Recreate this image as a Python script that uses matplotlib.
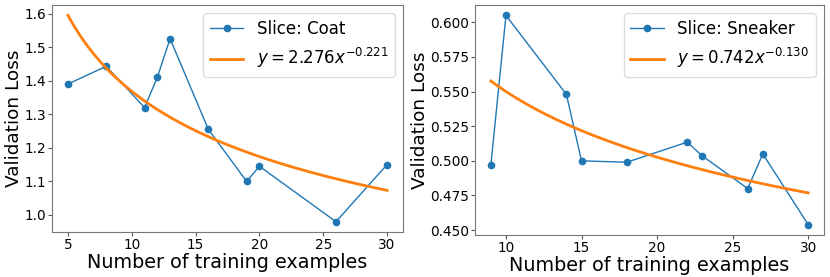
import numpy as np
import matplotlib
matplotlib.use("Agg")
import matplotlib.pyplot as plt

coat_x = [5, 8, 11, 12, 13, 16, 19, 20, 26, 30]
coat_y = [1.39, 1.443, 1.32, 1.41, 1.525, 1.255, 1.10, 1.145, 0.98, 1.15]
coat_a, coat_b = 2.276, -0.221

sneaker_x = [9, 10, 14, 15, 18, 22, 23, 26, 27, 30]
sneaker_y = [0.497, 0.605, 0.548, 0.500, 0.499, 0.5135, 0.5035, 0.480, 0.505, 0.454]
sneaker_a, sneaker_b = 0.742, -0.130

coat_yticks = [1.0, 1.1, 1.2, 1.3, 1.4, 1.5, 1.6]
sneaker_yticks = [0.450, 0.475, 0.500, 0.525, 0.550, 0.575, 0.600]

fig = plt.figure(figsize=(8.3, 2.77), dpi=100)
ax1 = fig.add_axes([52/830, 1-232/277, (403-52)/830, (232-5)/277])
ax2 = fig.add_axes([475/830, 1-235/277, (824-475)/830, (235-5)/277])

def draw(ax, x, y, a, b, name, yticks, yfmt):
    ax.plot(x, y, '-o', color='#1f77b4', lw=1.0, ms=4.5, label=f'Slice: {name}')
    xs = np.linspace(min(x), max(x), 200)
    ax.plot(xs, a * xs ** b, color='#ff7f0e', lw=2.0,
            label=rf'$y = {a:.3f}x^{{{b:.3f}}}$')
    ax.set_xlabel('Number of training examples', fontsize=13.8, labelpad=1)
    ax.set_ylabel('Validation Loss', fontsize=13.3, labelpad=1)
    ax.set_yticks(yticks)
    ax.set_yticklabels([yfmt.format(v) for v in yticks])
    ax.tick_params(labelsize=9.8, pad=1.5, length=2.8, color='#555555')
    for s in ax.spines.values():
        s.set_color('#777777')
    ax.legend(loc='upper right', fontsize=12, framealpha=1, edgecolor='#dddddd')

draw(ax1, coat_x, coat_y, coat_a, coat_b, 'Coat', coat_yticks, '{:.1f}')
ax1.set_xticks([5, 10, 15, 20, 25, 30])
draw(ax2, sneaker_x, sneaker_y, sneaker_a, sneaker_b, 'Sneaker', sneaker_yticks, '{:.3f}')
ax2.set_xticks([10, 15, 20, 25, 30])

fig.savefig('out.png', dpi=100)
